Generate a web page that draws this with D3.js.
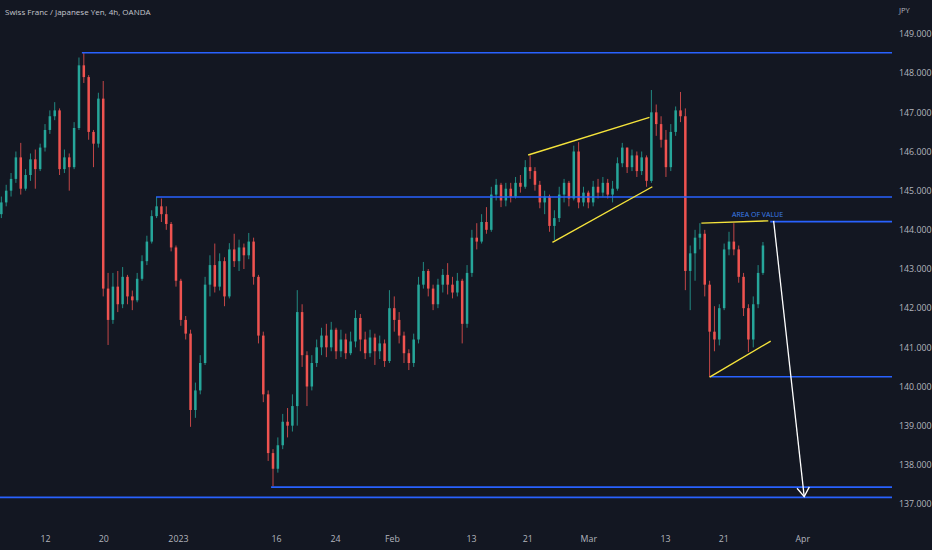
<!DOCTYPE html>
<meta charset="utf-8">
<script src="https://d3js.org/d3.v7.min.js"></script>
<style>
    body { margin: 0; background: #131722; }
    .tick text { font-family: 'Open Sans', sans-serif; font-size: 8.8px; fill: #b2b5be; }
    .title { font-family: 'Open Sans', sans-serif; font-size: 8px; fill: #c3c6ce; }
</style>
<div id="chart"></div>
<script>
    // CHF/JPY, 12h steps (open = previous close)
    const firstOpen = 144.40;
    const closes = [
        144.70, 145.00, 145.30, 145.85, 145.05, 145.40, 145.80, 145.55, 146.10, 146.55,
        146.90, 147.05, 145.55, 145.85, 145.60, 146.60, 148.20, 147.90, 146.50, 146.20,
        147.35, 142.50, 141.70, 142.55, 142.10, 142.80, 142.30, 142.20, 142.75, 143.20,
        143.70, 144.35, 144.60, 144.40, 144.15, 143.55, 142.70, 141.70, 141.35, 139.40,
        139.90, 140.60, 142.60, 143.10, 142.55, 143.20, 142.30, 143.50, 143.20, 143.55,
        143.35, 143.70, 142.80, 141.30, 139.80, 138.30, 137.90, 138.50, 139.10, 139.00,
        139.50, 141.90, 140.80, 140.00, 140.60, 141.00, 141.30, 141.00, 141.45, 140.90,
        141.20, 140.85, 141.15, 141.75, 141.20, 140.85, 141.25, 140.90, 141.10, 140.65,
        142.00, 141.70, 141.30, 140.85, 140.60, 141.20, 142.60, 142.95, 142.50, 142.10,
        142.60, 142.85, 142.60, 142.40, 142.70, 141.60, 142.90, 143.80, 143.70, 144.20,
        144.00, 144.90, 145.15, 144.75, 145.05, 144.85, 145.20, 145.10, 145.60, 145.50,
        145.15, 144.70, 144.85, 144.10, 144.30, 144.90, 145.20, 144.80, 146.00, 144.70,
        144.95, 144.70, 145.10, 144.95, 145.20, 144.90, 145.05, 145.70, 146.10, 145.60,
        145.90, 145.50, 145.85, 145.25, 147.00, 146.70, 146.30, 145.60, 146.50, 147.05,
        146.90, 142.95, 143.40, 143.80, 143.90, 142.60, 141.40, 141.20, 142.00, 143.50,
        143.70, 143.50, 142.80, 142.00, 141.20, 142.10, 142.90, 143.60
    ];
    const highs = [
        144.85, 145.15, 145.45, 146.00, 146.22, 145.55, 145.95, 146.05, 146.20, 146.70,
        147.05, 147.26, 147.10, 146.05, 145.95, 146.75, 148.40, 148.52, 147.95, 146.55,
        147.50, 147.80, 142.90, 142.90, 142.95, 143.05, 142.85, 142.45, 142.90, 143.35,
        143.85, 144.50, 144.84, 144.80, 144.60, 144.20, 143.60, 142.75, 141.80, 141.45,
        140.10, 140.80, 142.80, 143.35, 143.65, 143.40, 143.30, 143.66, 143.90, 143.75,
        143.65, 143.92, 143.80, 142.85, 141.40, 139.90, 138.40, 138.70, 139.30, 139.45,
        139.80, 142.46, 142.10, 140.90, 140.80, 141.20, 141.50, 141.60, 141.65, 141.50,
        141.45, 141.35, 141.40, 141.95, 141.85, 141.40, 141.45, 141.35, 141.30, 141.20,
        142.46, 142.30, 141.90, 141.40, 140.95, 141.35, 142.80, 143.18, 143.00, 142.60,
        142.75, 143.00, 143.15, 142.80, 142.90, 142.75, 143.10, 144.00, 144.17, 144.40,
        144.58, 145.10, 145.30, 145.20, 145.20, 145.20, 145.35, 145.40, 145.78, 145.90,
        145.60, 145.25, 145.00, 144.90, 144.50, 145.10, 145.30, 145.25, 146.15, 146.24,
        145.10, 145.00, 145.25, 145.30, 145.35, 145.30, 145.25, 145.85, 146.22, 146.10,
        146.05, 146.00, 146.00, 145.90, 147.57, 147.20, 146.90, 146.55, 146.70, 147.15,
        147.52, 147.10, 143.60, 144.00, 144.17, 144.00, 142.70, 142.05, 142.10, 143.65,
        143.95, 144.17, 143.60, 142.90, 142.10, 142.30, 143.10, 143.69
    ];
    const lows = [
        144.30, 144.60, 144.85, 145.20, 144.90, 145.00, 145.25, 145.05, 145.50, 146.00,
        146.45, 146.80, 145.40, 145.45, 145.00, 145.55, 146.55, 147.75, 146.30, 145.60,
        146.10, 142.30, 141.06, 141.60, 141.90, 142.00, 142.10, 141.95, 142.15, 142.70,
        143.10, 143.65, 144.30, 144.20, 144.00, 143.45, 142.55, 141.55, 141.20, 138.97,
        139.20, 139.80, 140.55, 142.30, 142.40, 142.45, 142.05, 142.25, 143.05, 142.95,
        143.00, 143.25, 142.60, 141.10, 139.60, 138.10, 137.45, 137.80, 138.40, 138.70,
        138.85, 139.00, 140.50, 139.50, 139.90, 140.50, 140.80, 140.75, 140.90, 140.70,
        140.75, 140.70, 140.80, 141.00, 140.90, 140.70, 140.75, 140.55, 140.70, 140.50,
        140.60, 141.40, 141.10, 140.60, 140.42, 140.50, 141.10, 142.50, 142.30, 141.95,
        142.00, 142.40, 142.35, 142.25, 142.30, 141.10, 141.50, 142.80, 143.50, 143.65,
        143.90, 143.95, 144.75, 144.58, 144.60, 144.70, 144.80, 144.95, 145.05, 145.30,
        145.00, 144.55, 144.40, 143.95, 143.74, 144.20, 144.70, 144.60, 144.75, 144.55,
        144.60, 144.55, 144.60, 144.80, 144.85, 144.80, 144.70, 145.00, 145.60, 145.45,
        145.50, 145.35, 145.40, 145.10, 145.20, 146.40, 146.10, 145.35, 145.50, 146.40,
        146.75, 142.46, 141.95, 142.70, 143.50, 142.30, 140.24, 140.90, 141.05, 141.95,
        143.35, 143.35, 142.65, 141.80, 140.88, 141.00, 142.00, 142.85
    ];

    // time axis labels, placed at bar index
    const tickLabels = ["12", "20", "2023", "16", "24", "Feb", "13", "21", "Mar", "13", "21", "Apr"];
    const tickBars = [9.0, 21.0, 36.4, 56.6, 68.8, 80.5, 96.8, 108.4, 121.0, 136.8, 148.8, 165.1];
    const priceTicks = [137, 138, 139, 140, 141, 142, 143, 144, 145, 146, 147, 148, 149];

    // horizontal levels (blue), drawn from a bar to the right edge
    const levelPrices = [148.52, 144.84, 144.21, 140.25, 137.43, 137.17];
    const levelFromBar = [16.6, 31.9, 158.5, 146.1, 55.6, -1];

    // yellow trend lines
    const trendFromBar = [108.6, 113.6, 144.3, 146.0];
    const trendFromPrice = [145.91, 143.68, 144.17, 140.24];
    const trendToBar = [133.6, 134.2, 158.1, 158.6];
    const trendToPrice = [146.87, 145.10, 144.23, 141.16];

    // white projection arrow
    const arrowBars = [159.2, 165.5];
    const arrowPrices = [144.23, 137.19];

    const W = 932, H = 550, plotRight = 892, plotBottom = 525;

    const svg = d3.select("#chart")
        .append("svg")
        .attr("width", W)
        .attr("height", H)
        .style("background", "#131722");

    let x = d3.scaleLinear().domain([0, 183.6]).range([1.35, plotRight]);
    let y = d3.scaleLinear().domain([137, 149]).range([504, 34]);

    svg.append("clipPath").attr("id", "plot")
        .append("rect").attr("width", plotRight).attr("height", plotBottom);

    let plot = svg.append("g").attr("clip-path", "url(#plot)");

    let bars = closes.map(function (c, i) {
        return {i: i, o: i === 0 ? firstOpen : closes[i - 1], c: c, h: highs[i], l: lows[i]};
    });

    let candle = plot.selectAll("g.candle")
        .data(bars)
        .enter().append("g")
        .attr("class", "candle");

    candle.append("line")
        .attr("x1", d => x(d.i)).attr("x2", d => x(d.i))
        .attr("y1", d => y(Math.max(d.h, d.o, d.c)))
        .attr("y2", d => y(Math.min(d.l, d.o, d.c)))
        .attr("stroke", d => d.c >= d.o ? "#26a69a" : "#ef5350")
        .attr("stroke-opacity", 0.8)
        .attr("stroke-width", 1);

    candle.append("rect")
        .attr("x", d => x(d.i) - 1.25)
        .attr("width", 2.5)
        .attr("y", d => y(Math.max(d.o, d.c)))
        .attr("height", d => Math.max(1, Math.abs(y(d.o) - y(d.c))))
        .attr("fill", d => d.c >= d.o ? "#26a69a" : "#ef5350");

    // levels
    plot.selectAll("line.level")
        .data(levelPrices)
        .enter().append("line")
        .attr("class", "level")
        .attr("x1", (d, i) => Math.max(0, x(levelFromBar[i])))
        .attr("x2", plotRight)
        .attr("y1", d => y(d)).attr("y2", d => y(d))
        .attr("stroke", "#2962ff")
        .attr("stroke-width", 1.6);

    plot.selectAll("line.trend")
        .data(trendFromBar)
        .enter().append("line")
        .attr("class", "trend")
        .attr("x1", d => x(d))
        .attr("y1", (d, i) => y(trendFromPrice[i]))
        .attr("x2", (d, i) => x(trendToBar[i]))
        .attr("y2", (d, i) => y(trendToPrice[i]))
        .attr("stroke", "#f5e33b")
        .attr("stroke-width", 1.4);

    // arrow
    let ax0 = x(arrowBars[0]), ay0 = y(arrowPrices[0]);
    let ax1 = x(arrowBars[1]), ay1 = y(arrowPrices[1]);
    plot.append("line")
        .attr("x1", ax0).attr("y1", ay0).attr("x2", ax1).attr("y2", ay1)
        .attr("stroke", "#ffffff").attr("stroke-width", 1.3);
    let ang = Math.atan2(ay1 - ay0, ax1 - ax0);
    plot.append("path")
        .attr("d", d3.line()([
            [ax1 - 11 * Math.cos(ang - 0.6), ay1 - 11 * Math.sin(ang - 0.6)],
            [ax1, ay1],
            [ax1 - 11 * Math.cos(ang + 0.6), ay1 - 11 * Math.sin(ang + 0.6)]
        ]))
        .attr("fill", "none").attr("stroke", "#ffffff").attr("stroke-width", 1.3);

    plot.append("text")
        .attr("x", x(155.9))
        .attr("y", y(144.21) - 5)
        .attr("text-anchor", "middle")
        .style("font-family", "'Open Sans', sans-serif")
        .style("font-size", "7px")
        .style("fill", "#3d7fef")
        .text("AREA OF VALUE");

    // price axis
    svg.append("g")
        .attr("transform", "translate(" + plotRight + ",0)")
        .call(d3.axisRight(y).tickValues(priceTicks).tickFormat(d3.format(".3f")).tickSize(0).tickPadding(7))
        .call(g => g.select(".domain").remove());

    svg.append("text")
        .attr("x", plotRight + 7).attr("y", 13)
        .attr("class", "title")
        .style("font-size", "7.5px")
        .style("fill", "#b2b5be")
        .text("JPY");

    // time axis
    svg.append("g")
        .attr("transform", "translate(0," + 534 + ")")
        .call(d3.axisBottom(x).tickValues(tickBars).tickFormat((d, i) => tickLabels[i]).tickSize(0).tickPadding(2))
        .call(g => g.select(".domain").remove());

    svg.append("text")
        .attr("x", 5).attr("y", 15)
        .attr("class", "title")
        .text("Swiss Franc / Japanese Yen, 4h, OANDA");
</script>
